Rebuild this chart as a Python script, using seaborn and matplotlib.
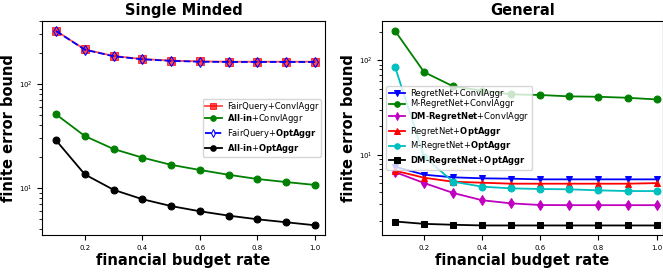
import pandas as pd
import matplotlib
matplotlib.use("Agg")
import matplotlib.pyplot as plt
import seaborn as sns

budget = [0.1, 0.2, 0.3, 0.4, 0.5, 0.6, 0.7, 0.8, 0.9, 1.0]

# Single Minded
sm_fair_conv = [325, 215, 186, 174, 168, 165, 164, 164, 164, 164]
sm_allin_conv = [51, 31.6, 23.7, 19.6, 16.7, 14.9, 13.4, 12.2, 11.4, 10.7]
sm_fair_opt = [323, 214, 185, 173, 167, 164, 163, 163, 163, 163]
sm_allin_opt = [28.7, 13.5, 9.6, 7.8, 6.7, 5.97, 5.42, 5.0, 4.68, 4.38]

# General
g_regret_conv = [7.46, 6.14, 5.76, 5.62, 5.57, 5.48, 5.48, 5.48, 5.48, 5.48]
g_mregret_conv = [205, 75, 53, 47.7, 43.6, 42.9, 41.5, 41.1, 40.1, 38.5]
g_dm_conv = [6.54, 5.01, 3.93, 3.29, 3.05, 2.93, 2.92, 2.92, 2.92, 2.92]
g_regret_opt = [6.77, 5.7, 5.17, 5.05, 4.93, 4.93, 4.93, 4.93, 4.93, 5.0]
g_mregret_opt = [85, 9.5, 5.17, 4.58, 4.4, 4.33, 4.3, 4.19, 4.12, 4.12]
g_dm_opt = [1.96, 1.85, 1.81, 1.78, 1.78, 1.78, 1.78, 1.78, 1.78, 1.78]

fig = plt.figure(figsize=(6.63, 2.72), dpi=100)
ax1 = fig.add_axes([42 / 663, 1 - 235 / 272, 283 / 663, 214 / 272])
ax2 = fig.add_axes([382 / 663, 1 - 235 / 272, 281 / 663, 214 / 272])

ms = 5
lw = 1.3
# left panel
sns.lineplot(x=budget, y=sm_fair_conv, ax=ax1, color="red", marker="s", markersize=ms + 1,
             markeredgecolor="red", linewidth=lw, alpha=0.7, label="FairQuery+ConvlAggr")
sns.lineplot(x=budget, y=sm_allin_conv, ax=ax1, color="green", marker="o", markersize=ms,
             markeredgecolor="green", linewidth=lw, label=r"$\bf{All}$-$\bf{in}$+ConvlAggr")
sns.lineplot(x=budget, y=sm_fair_opt, ax=ax1, color="blue", marker="d", markersize=ms,
             markerfacecolor="none", markeredgecolor="blue", linestyle="--", linewidth=lw,
             label=r"FairQuery+$\bf{OptAggr}$")
sns.lineplot(x=budget, y=sm_allin_opt, ax=ax1, color="black", marker="o", markersize=ms,
             markeredgecolor="black", linewidth=lw, label=r"$\bf{All}$-$\bf{in}$+$\bf{OptAggr}$")

# right panel
sns.lineplot(x=budget, y=g_regret_conv, ax=ax2, color="blue", marker="v", markersize=ms,
             markeredgecolor="blue", linewidth=lw, label="RegretNet+ConvlAggr")
sns.lineplot(x=budget, y=g_mregret_conv, ax=ax2, color="green", marker="o", markersize=ms,
             markeredgecolor="green", linewidth=lw, label="M-RegretNet+ConvlAggr")
sns.lineplot(x=budget, y=g_dm_conv, ax=ax2, color="m", marker="d", markersize=ms,
             markeredgecolor="m", linewidth=lw, label=r"$\bf{DM}$-$\bf{RegretNet}$+ConvlAggr")
sns.lineplot(x=budget, y=g_regret_opt, ax=ax2, color="red", marker="^", markersize=ms,
             markeredgecolor="red", linewidth=lw, label=r"RegretNet+$\bf{OptAggr}$")
sns.lineplot(x=budget, y=g_mregret_opt, ax=ax2, color="c", marker="o", markersize=ms,
             markeredgecolor="c", linewidth=lw, label=r"M-RegretNet+$\bf{OptAggr}$")
sns.lineplot(x=budget, y=g_dm_opt, ax=ax2, color="black", marker="s", markersize=ms,
             markeredgecolor="black", linewidth=lw,
             label=r"$\bf{DM}$-$\bf{RegretNet}$+$\bf{OptAggr}$")

for ax, title in [(ax1, "Single Minded"), (ax2, "General")]:
    ax.set_yscale("log")
    ax.set_title(title, fontsize=10.5, fontweight="bold", pad=4)
    ax.set_xlabel("financial budget rate", fontsize=10.5, fontweight="bold", labelpad=2)
    ax.set_ylabel("finite error bound", fontsize=10.5, fontweight="bold", labelpad=2)
    ax.tick_params(labelsize=5)
    ax.set_xticks([0.2, 0.4, 0.6, 0.8, 1.0])

ax1.set_xlim(0.051, 1.035)
ax1.set_ylim(3.53, 404)
ax2.set_xlim(0.055, 1.022)
ax2.set_ylim(1.41, 261)

ax1.legend(loc="center right", fontsize=6, labelspacing=0.2, handlelength=2,
           borderpad=0.3, handletextpad=0.6, markerscale=0.8)
ax2.legend(loc="center left", fontsize=6, labelspacing=0.2, handlelength=2,
           borderpad=0.3, handletextpad=0.6, markerscale=0.8)

fig.savefig("out.png", dpi=100)
